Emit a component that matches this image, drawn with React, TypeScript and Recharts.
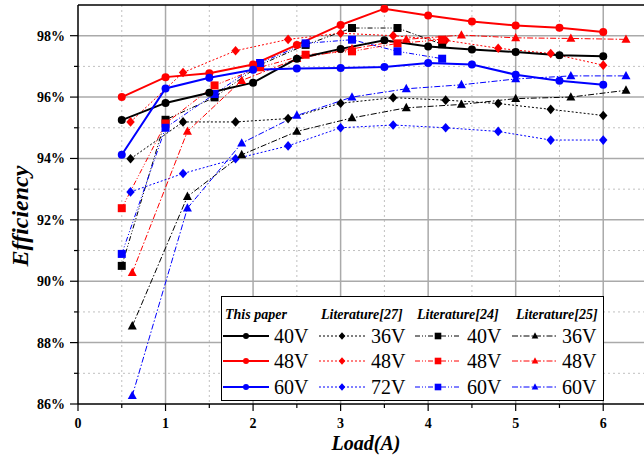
import React from "react";
import {
  LineChart,
  Line,
  XAxis,
  YAxis,
  CartesianGrid,
  ReferenceLine,
  Label,
} from "recharts";

// load points (A) for each source
const paperLoad = [0.5, 1, 1.5, 2, 2.5, 3, 3.5, 4, 4.5, 5, 5.5, 6];
const lit27Load = [0.6, 1.2, 1.8, 2.4, 3, 3.6, 4.2, 4.8, 5.4, 6];
const lit24Load = [0.5, 1.0, 1.56, 2.08, 2.6, 3.13, 3.65, 4.16];
const lit25Load = [0.62, 1.25, 1.87, 2.5, 3.13, 3.75, 4.38, 5.0, 5.63, 6.26];

// efficiency (%)
const paper40 = [95.25, 95.81, 96.14, 96.47, 97.25, 97.57, 97.85, 97.65, 97.55, 97.47, 97.36, 97.33];
const paper48 = [96.0, 96.65, 96.78, 97.06, 97.7, 98.35, 98.88, 98.66, 98.46, 98.33, 98.26, 98.12];
const paper60 = [94.12, 96.28, 96.63, 96.89, 96.93, 96.95, 96.98, 97.11, 97.06, 96.73, 96.53, 96.4];

const lit27v36 = [93.99, 95.19, 95.19, 95.3, 95.8, 95.98, 95.9, 95.79, 95.6, 95.4];
const lit27v48 = [95.19, 96.8, 97.51, 97.88, 98.08, 98.0, 97.85, 97.59, 97.42, 97.04];
const lit27v72 = [92.91, 93.51, 93.99, 94.41, 95.0, 95.09, 95.0, 94.88, 94.6, 94.6];

const lit24v40 = [90.5, 95.26, 95.99, 97.05, 97.7, 98.25, 98.25, 97.72];
const lit24v48 = [92.38, 95.14, 96.38, 96.97, 97.38, 97.49, 97.75, 97.87];
const lit24v60 = [90.89, 95.0, 96.1, 97.11, 97.75, 97.87, 97.49, 97.25];

const lit25v36 = [88.54, 92.76, 94.12, 94.88, 95.32, 95.65, 95.76, 95.95, 96.0, 96.22];
const lit25v48 = [90.28, 94.88, 96.54, 97.25, 97.57, 97.88, 98.02, 97.93, 97.91, 97.88];
const lit25v60 = [86.27, 92.38, 94.5, 95.4, 96.0, 96.27, 96.4, 96.59, 96.69, 96.69];

const xTicks = [0, 0.5, 1, 1.5, 2, 2.5, 3, 3.5, 4, 4.5, 5, 5.5, 6];
const yTicks = [86, 87, 88, 89, 90, 91, 92, 93, 94, 95, 96, 97, 98];
const majorX = [1, 2, 3, 4, 5, 6];
const minorX = [0.5, 1.5, 2.5, 3.5, 4.5, 5.5, 6.5];
const majorY = [88, 90, 92, 94, 96, 98];
const minorY = [87, 89, 91, 93, 95, 97];

const headers = ["This paper", "Literature[27]", "Literature[24]", "Literature[25]"];

const BLACK = "#000000";
const RED = "#ff0000";
const BLUE = "#0000ff";
const FONT = "'Liberation Serif', 'Times New Roman', 'DejaVu Serif', serif";

type Shape = "circle" | "diamond" | "square" | "triangle";

const toPoints = (xs: number[], ys: number[]) =>
  xs.map((x, i) => ({ x, y: ys[i] }));

const Marker = ({ shape, cx, cy, color, s }: any) => {
  if (shape === "circle") return <circle cx={cx} cy={cy} r={s} fill={color} />;
  if (shape === "diamond")
    return (
      <polygon
        points={`${cx},${cy - s * 1.15} ${cx + s},${cy} ${cx},${cy + s * 1.15} ${cx - s},${cy}`}
        fill={color}
      />
    );
  if (shape === "square")
    return <rect x={cx - s} y={cy - s} width={s * 2} height={s * 2} fill={color} />;
  return (
    <polygon
      points={`${cx},${cy - s * 1.1} ${cx + s},${cy + s * 0.75} ${cx - s},${cy + s * 0.75}`}
      fill={color}
    />
  );
};

const dotFor = (name: string, shape: Shape, color: string, s: number) => (props: any) => {
  const { cx, cy, index } = props;
  return <Marker key={`${name}-${index}`} shape={shape} cx={cx} cy={cy} color={color} s={s} />;
};

const DASH: Record<string, string | undefined> = {
  paper: undefined,
  lit27: "2 2",
  lit24: "5 2 1 2 1 2",
  lit25: "6 2 1.5 2",
};

const series = [
  { name: "lit27-36", group: "lit27", label: "36V", data: toPoints(lit27Load, lit27v36), color: BLACK, shape: "diamond" as Shape },
  { name: "lit27-48", group: "lit27", label: "48V", data: toPoints(lit27Load, lit27v48), color: RED, shape: "diamond" as Shape },
  { name: "lit27-72", group: "lit27", label: "72V", data: toPoints(lit27Load, lit27v72), color: BLUE, shape: "diamond" as Shape },
  { name: "lit24-40", group: "lit24", label: "40V", data: toPoints(lit24Load, lit24v40), color: BLACK, shape: "square" as Shape },
  { name: "lit24-48", group: "lit24", label: "48V", data: toPoints(lit24Load, lit24v48), color: RED, shape: "square" as Shape },
  { name: "lit24-60", group: "lit24", label: "60V", data: toPoints(lit24Load, lit24v60), color: BLUE, shape: "square" as Shape },
  { name: "lit25-36", group: "lit25", label: "36V", data: toPoints(lit25Load, lit25v36), color: BLACK, shape: "triangle" as Shape },
  { name: "lit25-48", group: "lit25", label: "48V", data: toPoints(lit25Load, lit25v48), color: RED, shape: "triangle" as Shape },
  { name: "lit25-60", group: "lit25", label: "60V", data: toPoints(lit25Load, lit25v60), color: BLUE, shape: "triangle" as Shape },
  { name: "paper-40", group: "paper", label: "40V", data: toPoints(paperLoad, paper40), color: BLACK, shape: "circle" as Shape },
  { name: "paper-48", group: "paper", label: "48V", data: toPoints(paperLoad, paper48), color: RED, shape: "circle" as Shape },
  { name: "paper-60", group: "paper", label: "60V", data: toPoints(paperLoad, paper60), color: BLUE, shape: "circle" as Shape },
];

const markerSize: Record<Shape, number> = { circle: 4, diamond: 4.2, square: 4, triangle: 4.5 };

const XTick = ({ x, y, payload }: any) => {
  const v = payload.value;
  const major = Number.isInteger(v);
  return (
    <g>
      <line x1={x} x2={x} y1={y} y2={y + (major ? 7 : 4)} stroke={BLACK} strokeWidth={1.2} />
      {major && (
        <text x={x} y={y + 24} textAnchor="middle" fontSize={14} fontWeight="bold" fontFamily={FONT} fill={BLACK}>
          {v}
        </text>
      )}
    </g>
  );
};

const YTick = ({ x, y, payload }: any) => {
  const v = payload.value;
  const major = v % 2 === 0;
  return (
    <g>
      <line x1={x - (major ? 8 : 4)} x2={x} y1={y} y2={y} stroke={BLACK} strokeWidth={1.2} />
      {major && (
        <text x={x - 13} y={y + 5} textAnchor="end" fontSize={14} fontWeight="bold" fontFamily={FONT} fill={BLACK}>
          {v}%
        </text>
      )}
    </g>
  );
};

// legend box: four columns, one header row and three voltage rows
const LegendBox = () => {
  const colX = [2, 98, 194, 291];
  const headX = [4, 100, 196, 295];
  const rowY = [40, 65, 91];
  const groups = ["paper", "lit27", "lit24", "lit25"];
  return (
    <div
      style={{
        position: "absolute",
        left: 221,
        top: 296,
        width: 383,
        height: 105,
        background: "#fff",
        border: "1.5px solid #000",
        boxSizing: "border-box",
      }}
    >
      <svg width={383} height={105} style={{ position: "absolute", left: -1.5, top: -1.5 }}>
        {headers.map((h, i) => (
          <text key={h} x={headX[i]} y={23} fontSize={14} fontWeight="bold" fontStyle="italic" fontFamily={FONT}>
            {h}
          </text>
        ))}
        {groups.map((g, gi) =>
          series
            .filter((s) => s.group === g)
            .map((s, ri) => {
              const x0 = colX[gi];
              const y0 = rowY[ri];
              return (
                <g key={s.name}>
                  <line
                    x1={x0}
                    x2={x0 + 46}
                    y1={y0}
                    y2={y0}
                    stroke={s.color}
                    strokeWidth={g === "paper" ? 2 : 1}
                    strokeDasharray={DASH[g]}
                  />
                  <Marker shape={s.shape} cx={x0 + 23} cy={y0} color={s.color} s={g === "paper" ? 3 : 3.3} />
                  <text x={x0 + (g === "paper" ? 51 : g === "lit25" ? 50 : 52)} y={y0 + 7} fontSize={20} fontFamily={FONT}>
                    {s.label}
                  </text>
                </g>
              );
            })
        )}
      </svg>
    </div>
  );
};

export default function App() {
  return (
    <div
      style={{
        position: "absolute",
        left: 0,
        top: 0,
        width: 644,
        height: 455,
        overflow: "hidden",
        background: "#fff",
        fontFamily: FONT,
      }}
    >
      <LineChart width={647} height={455} margin={{ top: 5, right: 0, bottom: 0, left: 0 }}>
        <CartesianGrid horizontalValues={minorY} verticalValues={minorX} stroke="#c0c0c0" strokeDasharray="2 3" />
        <CartesianGrid horizontalValues={majorY} verticalValues={majorX} stroke="#aaaaaa" strokeWidth={1.5} />
        <XAxis
          type="number"
          dataKey="x"
          domain={[0, 6.5]}
          ticks={xTicks}
          interval={0}
          allowDataOverflow
          height={51}
          tickSize={0}
          tickMargin={0}
          tick={<XTick />}
          stroke={BLACK}
          strokeWidth={1.5}
        >
          <Label
            content={() => (
              <text x={366} y={450} textAnchor="middle" fontSize={20} fontWeight="bold" fontStyle="italic" fontFamily={FONT}>
                Load(A)
              </text>
            )}
          />
        </XAxis>
        <YAxis
          type="number"
          dataKey="y"
          domain={[86, 99]}
          ticks={yTicks}
          interval={0}
          allowDataOverflow
          width={78}
          tickSize={0}
          tickMargin={0}
          tick={<YTick />}
          stroke={BLACK}
          strokeWidth={1.5}
        >
          <Label
            content={() => (
              <text
                x={20}
                y={216}
                textAnchor="middle"
                dominantBaseline="central"
                transform="rotate(-90, 20, 216)"
                fontSize={24}
                fontWeight="bold"
                fontStyle="italic"
                fontFamily={FONT}
              >
                Efficiency
              </text>
            )}
          />
        </YAxis>
        <ReferenceLine y={99} stroke={BLACK} strokeWidth={1.5} />
        {series.map((s) => (
          <Line
            key={s.name}
            data={s.data}
            dataKey="y"
            type="linear"
            stroke={s.color}
            strokeWidth={s.group === "paper" ? 2 : 1}
            strokeDasharray={DASH[s.group]}
            dot={dotFor(s.name, s.shape, s.color, markerSize[s.shape])}
            activeDot={false}
            isAnimationActive={false}
          />
        ))}
      </LineChart>
      <LegendBox />
    </div>
  );
}
